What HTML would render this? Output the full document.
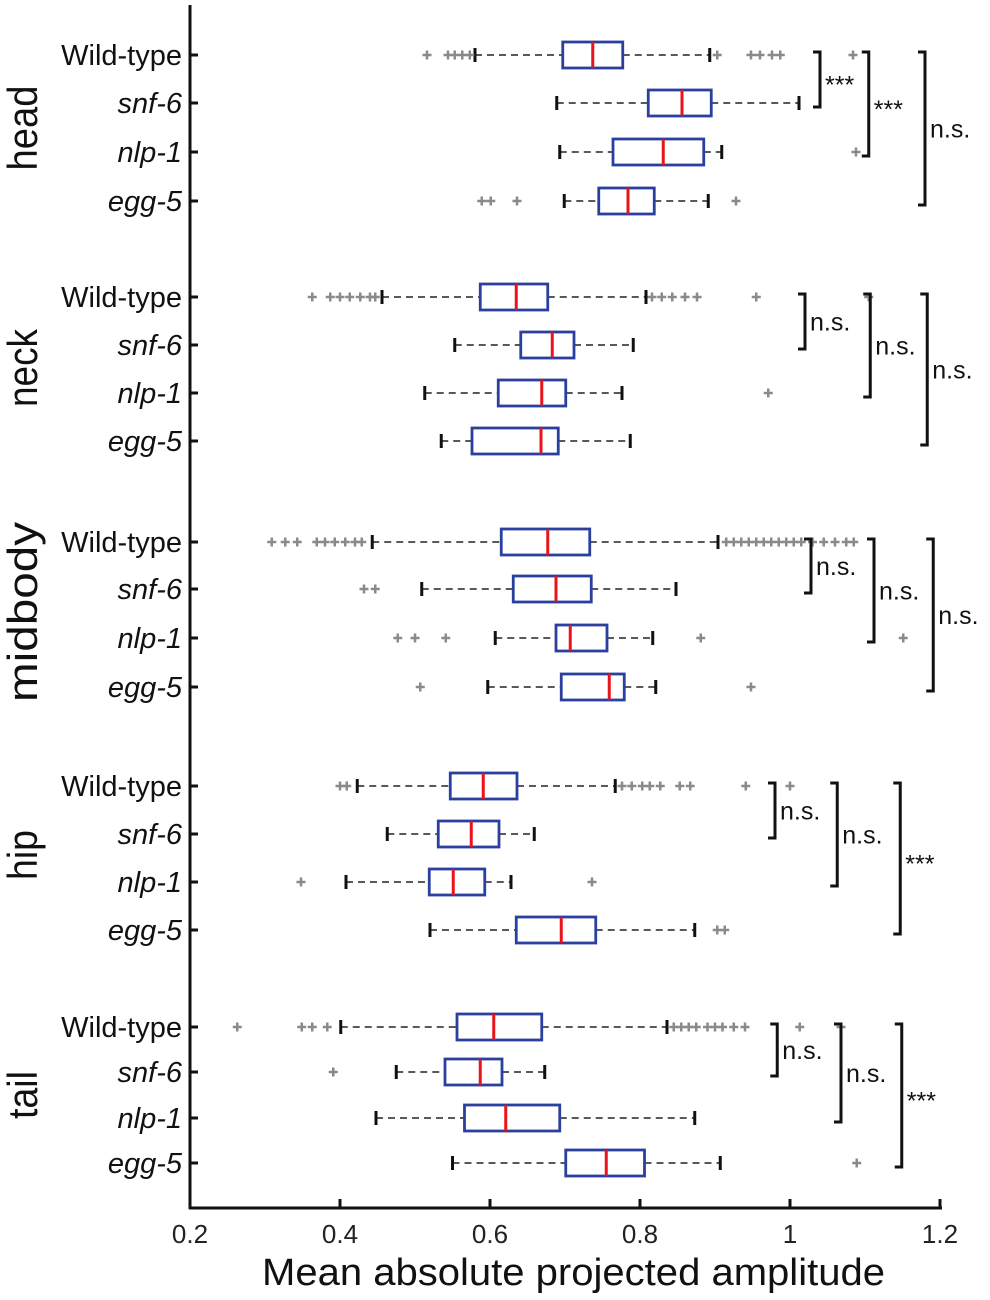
<!DOCTYPE html>
<html><head><meta charset="utf-8"><style>
body{margin:0;background:#fff}
svg{display:block;font-family:"Liberation Sans",Arial,sans-serif}
</style></head><body>
<svg id="chart" width="990" height="1300" viewBox="0 0 990 1300"></svg>
<script>
const regions=["head","neck","midbody","hip","tail"];
const strains=["Wild-type","snf-6","nlp-1","egg-5"];
const rowY=[[55,103,152,201],[297,345,393,441],[542,589,638,687],[786,834,882,930],[1027,1072,1118,1163]];
const regionLabelY=[128,368,612,855,1095];
const regionLabelLen=[85,78,180,50,48];
const whiskerLow=[[.58,.689,.693,.699],[.456,.553,.513,.535],[.443,.509,.607,.597],[.423,.463,.408,.52],[.401,.475,.448,.55]];
const q1=[[.697,.811,.764,.745],[.587,.641,.611,.576],[.615,.631,.688,.695],[.547,.531,.519,.635],[.556,.54,.566,.701]];
const medians=[[.737,.856,.831,.784],[.635,.683,.669,.668],[.677,.688,.707,.759],[.591,.575,.551,.695],[.605,.587,.621,.755]];
const q3=[[.777,.895,.885,.819],[.677,.712,.701,.691],[.733,.735,.756,.779],[.636,.612,.593,.741],[.669,.616,.693,.806]];
const whiskerHigh=[[.893,1.012,.909,.891],[.808,.791,.776,.787],[.904,.848,.817,.821],[.767,.659,.628,.873],[.836,.673,.873,.907]];
const outliers=[
 [[.516,.544,.553,.563,.573,.903,.948,.96,.976,.987,1.084],[],[1.088],[.589,.601,.636,.928]],
 [[.363,.387,.4,.413,.427,.44,.447,.816,.829,.843,.86,.876,.955,1.105],[],[.971],[]],
 [[.309,.327,.343,.369,.38,.393,.407,.42,.429,.915,.925,.935,.945,.955,.965,.975,.985,.995,1.005,1.015,1.03,1.045,1.06,1.075,1.085],[.432,.447],[.477,.5,.541,.881,1.151],[.507,.948]],
 [[.4,.409,.776,.789,.803,.813,.827,.853,.867,.941,1.0],[],[.348,.736],[.903,.913]],
 [[.263,.349,.363,.383,.845,.855,.865,.875,.89,.9,.91,.925,.94,1.013,1.068],[.391],[],[1.089]]
];
const bracketX=[[1.04,1.105,1.18],[1.02,1.107,1.183],[1.028,1.112,1.191],[.98,1.063,1.147],[.983,1.068,1.149]];
const bracketLabels=[["***","***","n.s."],["n.s.","n.s.","n.s."],["n.s.","n.s.","n.s."],["n.s.","n.s.","***"],["n.s.","n.s.","***"]];
const xTicks=[0.2,0.4,0.6,0.8,1,1.2];
const xTickLabels=["0.2","0.4","0.6","0.8","1","1.2"];

const svg=document.getElementById('chart');
const NS="http://www.w3.org/2000/svg";
const x=v=>190+(v-0.2)*750;
function mk(tag,attrs,parent){const e=document.createElementNS(NS,tag);for(const k in attrs)e.setAttribute(k,attrs[k]);(parent||svg).appendChild(e);return e;}

let ax=mk('line',{x1:190,y1:5,x2:190,y2:1209,stroke:'#111','stroke-width':3});


ax=mk('line',{x1:189,y1:1208,x2:942,y2:1208,stroke:'#111','stroke-width':3});


xTicks.forEach((t,i)=>{
  const l=mk('line',{x1:x(t),y1:1208,x2:x(t),y2:1199,stroke:'#111','stroke-width':3});
  
  
  const tx=mk('text',{x:x(t),y:1243,'text-anchor':'middle','font-size':26,fill:'#222'});
  tx.textContent=xTickLabels[i];
  
  
});
const title=mk('text',{x:262,y:1285,'font-size':38,fill:'#111',textLength:623,lengthAdjust:'spacingAndGlyphs'});
title.textContent='Mean absolute projected amplitude';



regions.forEach((r,g)=>{
  const rl=mk('text',{x:0,y:0,'text-anchor':'middle','font-size':42,fill:'#111',textLength:regionLabelLen[g],lengthAdjust:'spacingAndGlyphs',transform:`translate(37,${regionLabelY[g]}) rotate(-90)`});
  rl.textContent=r;
  
  
  strains.forEach((s,i)=>{
    const y=rowY[g][i];
    const lab=mk('text',{x:182,y:y+10,'text-anchor':'end','font-size':29,fill:'#111','font-style':i?'italic':'normal'});
    lab.textContent=s;
    
    
    const tk=mk('line',{x1:190,y1:y,x2:198,y2:y,stroke:'#111','stroke-width':3});
    
    
    const grp=mk('g',{});
    
    
    mk('line',{x1:x(whiskerLow[g][i]),y1:y,x2:x(q1[g][i]),y2:y,stroke:'#222','stroke-width':1.6,'stroke-dasharray':'7,5'},grp);
    mk('line',{x1:x(q3[g][i]),y1:y,x2:x(whiskerHigh[g][i]),y2:y,stroke:'#222','stroke-width':1.6,'stroke-dasharray':'7,5'},grp);
    mk('line',{x1:x(whiskerLow[g][i]),y1:y-7,x2:x(whiskerLow[g][i]),y2:y+7,stroke:'#111','stroke-width':3},grp);
    mk('line',{x1:x(whiskerHigh[g][i]),y1:y-7,x2:x(whiskerHigh[g][i]),y2:y+7,stroke:'#111','stroke-width':3},grp);
    mk('rect',{x:x(q1[g][i]),y:y-13,width:x(q3[g][i])-x(q1[g][i]),height:26,fill:'#fff',stroke:'#2b3f9e','stroke-width':2.8},grp);
    mk('line',{x1:x(medians[g][i]),y1:y-13,x2:x(medians[g][i]),y2:y+13,stroke:'#e8141b','stroke-width':3},grp);
    outliers[g][i].forEach(o=>{
      const p=mk('path',{d:`M${x(o)-4.5},${y}h9M${x(o)},${y-4.5}v9`,stroke:'#8a8a8a','stroke-width':2.5},grp);
      
      
    });
  });
  [1,2,3].forEach((target,k)=>{
    const bx=x(bracketX[g][k]);
    const y0=rowY[g][0]-3, y1=rowY[g][target]+4;
    const b=mk('path',{d:`M${bx-7},${y0}H${bx}V${y1}H${bx-7}`,fill:'none',stroke:'#111','stroke-width':3});
    
    
    const lbl=bracketLabels[g][k];
    const star=lbl==='***';
    const t=mk('text',{x:bx+5,y:(y0+y1)/2+(star?14:9),'font-size':star?25:25,fill:'#111'});
    t.textContent=lbl;
    
    
  });
});
</script>
</body></html>
